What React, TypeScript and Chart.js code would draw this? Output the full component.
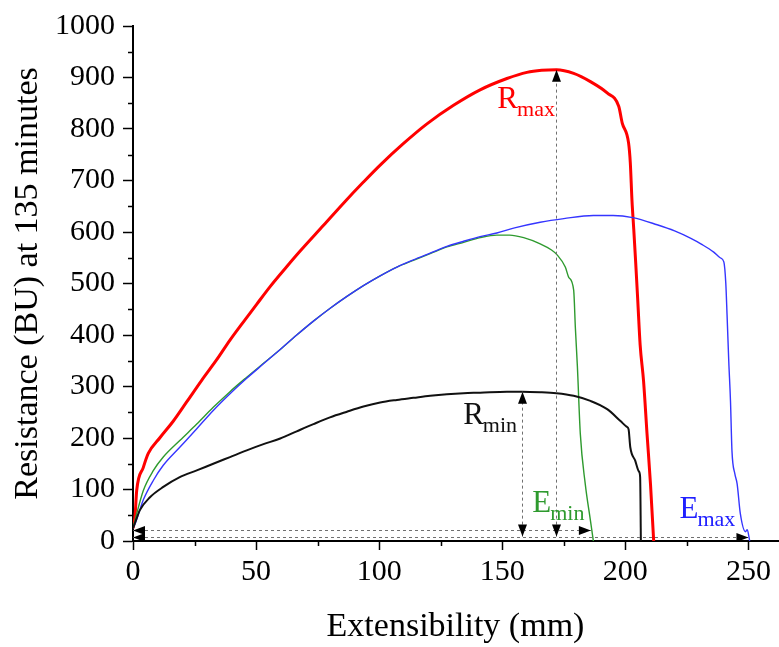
import React, { useEffect, useRef } from "react";
import { Chart, registerables } from "chart.js";

Chart.register(...registerables);

const FONT = "'Liberation Serif', 'Times New Roman', serif";

// Axis ticks
const xTickValues = [0, 50, 100, 150, 200, 250];
const xMinorTicks = [25, 75, 125, 175, 225];
const yTickValues = [0, 100, 200, 300, 400, 500, 600, 700, 800, 900, 1000];
const yMinorTicks = [50, 150, 250, 350, 450, 550, 650, 750, 850, 950];

// R_max curve (red)
const rMaxX = [0, 0.8, 1.5, 4.2, 6.2, 11, 16.4, 21.8, 27.9, 34, 39.4, 44.8, 50.3, 55.7, 62.5, 67.9, 77.4, 85.5, 93.6, 100.4, 109.9, 119.4, 130.2, 141, 151.9, 160, 166, 172, 179, 185.8, 192.6, 197.3, 198.7, 201.3, 202, 202.7, 203.4, 204.2, 205, 206, 207.4, 208.8, 210.2, 211.5];
const rMaxY = [25, 47, 98, 143, 170, 201, 233, 270, 312, 352, 390, 425, 460, 494, 533, 563, 613, 656, 697, 730, 772, 810, 846, 876, 898, 910, 914, 915, 908, 892, 870, 844, 812, 773, 735, 660, 606, 540, 470, 381, 310, 208, 111, 0];

// E_min curve (green)
const eMinX = [0, 0.8, 4.2, 8.3, 12.3, 19, 25.9, 32.5, 39.4, 46.2, 53, 59.8, 66.5, 73.3, 80.1, 86.9, 93.6, 100.4, 107.2, 113.9, 120.7, 127.5, 134.3, 141, 147.8, 153, 158.7, 165.4, 170, 172.2, 175.6, 177, 179, 179.7, 180.5, 181.7, 183.7, 185.8, 187];
const eMinY = [25, 40, 98, 137, 163, 195, 227, 259, 290, 318, 345, 372, 400, 427, 452, 475, 496, 515, 532, 545, 558, 571, 580, 589, 594, 594, 589, 577, 565, 556, 532, 512, 487, 413, 340, 208, 111, 40, 0];

// E_max curve (blue)
const eMaxX = [0, 1, 4.2, 8.3, 12.3, 19, 25.9, 32.5, 39.4, 46.2, 53, 59.8, 66.5, 73.3, 80.1, 86.9, 93.6, 100.4, 107.2, 113.9, 120.7, 127.5, 134.3, 141, 147.8, 155, 165.4, 175, 187, 195, 203, 212.9, 220, 226.4, 231, 235.9, 238.5, 240, 240.8, 241.3, 242, 242.7, 243.3, 244.5, 245.4, 246.7, 248.8, 249.5, 250.5];
const eMaxY = [25, 35, 80, 118, 147, 182, 218, 253, 286, 316, 344, 372, 400, 427, 452, 475, 496, 515, 532, 546, 559, 572, 582, 591, 598, 608, 619, 626, 632, 632, 628, 614, 602, 588, 576, 561, 550, 542, 500, 440, 349, 272, 175, 130, 111, 53, 18, 22, 0];

// R_min curve (black)
const rMinX = [0, 0.8, 2.8, 6.9, 12.3, 19, 25.9, 32.6, 39.4, 46.2, 53, 59.8, 66.5, 73.3, 80, 86.9, 93.6, 100.4, 107.2, 113.9, 120.7, 127.5, 134.3, 141, 151.9, 158, 165.4, 172, 179, 185.8, 192.6, 198, 200.5, 201.3, 202, 204, 205.5, 206, 206.3];
const rMinY = [25, 35, 60, 85, 105, 124, 137, 150, 163, 176, 188, 199, 213, 227, 240, 251, 261, 269, 274, 278, 282, 285, 287, 288, 290, 290, 289, 287, 282, 272, 256, 233, 222, 217, 182, 156, 135, 124, 0];

// Annotation arrows (data units)
const peakArrowX = [172, 158];
const peakArrowTop = [915, 290];
const peakArrowBottom = [8.5, 8.5];
const extArrowY = [21, 8.5];
const extArrowEnd = [186, 250];

// Annotation labels (data units: left edge x, baseline y)
const labelMain = ["R", "R", "E", "E"];
const labelSub = ["max", "min", "min", "max"];
const labelX = [148, 134.1, 162.2, 222];
const labelY = [841, 227.5, 56, 44];
const labelColor = ["#ff0000", "#111111", "#2e9a2e", "#2020ff"];

function pts(xs: number[], ys: number[]) {
  return xs.map((x, i) => ({ x, y: ys[i] }));
}

function arrowHead(ctx: CanvasRenderingContext2D, tx: number, ty: number, ang: number) {
  const len = 12;
  const hw = 4.5;
  ctx.save();
  ctx.translate(tx, ty);
  ctx.rotate(ang);
  ctx.beginPath();
  ctx.moveTo(0, 0);
  ctx.lineTo(-len, -hw);
  ctx.lineTo(-len, hw);
  ctx.closePath();
  ctx.fillStyle = "#000";
  ctx.fill();
  ctx.restore();
}

const overlayPlugin = {
  id: "overlay",
  afterDraw(chart: any) {
    const ctx: CanvasRenderingContext2D = chart.ctx;
    const xs = chart.scales.x;
    const ys = chart.scales.y;
    const { left, bottom } = chart.chartArea;
    ctx.save();
    // minor ticks
    ctx.strokeStyle = "#000";
    ctx.lineWidth = 1.5;
    ctx.beginPath();
    xMinorTicks.forEach((v) => {
      const px = Math.round(xs.getPixelForValue(v)) + 0.5;
      ctx.moveTo(px, bottom);
      ctx.lineTo(px, bottom + 5);
    });
    yMinorTicks.forEach((v) => {
      const py = Math.round(ys.getPixelForValue(v)) + 0.5;
      ctx.moveTo(left, py);
      ctx.lineTo(left - 5, py);
    });
    ctx.stroke();

    // dashed guide lines
    ctx.strokeStyle = "#707070";
    ctx.lineWidth = 1;
    ctx.setLineDash([3, 3]);
    ctx.beginPath();
    peakArrowX.forEach((v, i) => {
      const px = Math.round(xs.getPixelForValue(v)) + 0.5;
      ctx.moveTo(px, ys.getPixelForValue(peakArrowBottom[i]));
      ctx.lineTo(px, ys.getPixelForValue(peakArrowTop[i]));
    });
    extArrowY.forEach((v, i) => {
      const py = Math.round(ys.getPixelForValue(v)) + 0.5;
      ctx.moveTo(xs.getPixelForValue(0), py);
      ctx.lineTo(xs.getPixelForValue(extArrowEnd[i]), py);
    });
    ctx.stroke();
    ctx.setLineDash([]);

    // arrow heads
    peakArrowX.forEach((v, i) => {
      const px = Math.round(xs.getPixelForValue(v)) + 0.5;
      arrowHead(ctx, px, ys.getPixelForValue(peakArrowTop[i]), -Math.PI / 2);
      arrowHead(ctx, px, ys.getPixelForValue(peakArrowBottom[i]), Math.PI / 2);
    });
    extArrowY.forEach((v, i) => {
      const py = Math.round(ys.getPixelForValue(v)) + 0.5;
      arrowHead(ctx, xs.getPixelForValue(0), py, Math.PI);
      arrowHead(ctx, xs.getPixelForValue(extArrowEnd[i]), py, 0);
    });

    // labels with subscripts
    ctx.textBaseline = "alphabetic";
    ctx.textAlign = "left";
    labelMain.forEach((m, i) => {
      const px = xs.getPixelForValue(labelX[i]);
      const py = ys.getPixelForValue(labelY[i]);
      ctx.fillStyle = labelColor[i];
      ctx.font = `31px ${FONT}`;
      ctx.fillText(m, px, py);
      const w = ctx.measureText(m).width;
      ctx.font = `22px ${FONT}`;
      ctx.fillText(labelSub[i], px + w - 1, py + 8);
    });
    ctx.restore();
  },
};

export default function App() {
  const ref = useRef<HTMLCanvasElement | null>(null);
  useEffect(() => {
    if (!ref.current) return;
    const tickFont = { family: FONT, size: 30 };
    const titleFont = { family: FONT, size: 34 };
    const chart = new Chart(ref.current, {
      type: "scatter",
      data: {
        datasets: [
          { label: "Rmin", data: pts(rMinX, rMinY), borderColor: "#111111", borderWidth: 2 },
          { label: "Emax", data: pts(eMaxX, eMaxY), borderColor: "#3535ff", borderWidth: 1.4 },
          { label: "Emin", data: pts(eMinX, eMinY), borderColor: "#2e9a2e", borderWidth: 1.4 },
          { label: "Rmax", data: pts(rMaxX, rMaxY), borderColor: "#ff0000", borderWidth: 3 },
        ].map((d) => ({
          ...d,
          showLine: true,
          pointRadius: 0,
          pointHoverRadius: 0,
          fill: false,
          cubicInterpolationMode: "monotone" as const,
        })),
      },
      plugins: [overlayPlugin],
      options: {
        responsive: false,
        animation: false,
        devicePixelRatio: 1,
        layout: { padding: { top: 22, right: 1, left: 0, bottom: 0 } },
        plugins: { legend: { display: false }, tooltip: { enabled: false } },
        scales: {
          x: {
            type: "linear",
            min: 0,
            max: 262,
            afterBuildTicks: (s: any) => {
              s.ticks = xTickValues.map((v) => ({ value: v }));
            },
            afterFit: (s: any) => {
              s.height = 106;
            },
            border: { display: true, color: "#000", width: 2 },
            grid: { drawOnChartArea: false, drawTicks: true, tickLength: 9, tickColor: "#000", tickWidth: 1.5 },
            ticks: { font: tickFont, color: "#000", padding: 4, maxRotation: 0, callback: (v: any) => String(v) },
            title: { display: true, text: "Extensibility (mm)", font: titleFont, color: "#000", padding: { top: 0, bottom: 0 } },
          },
          y: {
            type: "linear",
            min: 0,
            max: 1000,
            afterBuildTicks: (s: any) => {
              s.ticks = yTickValues.map((v) => ({ value: v }));
            },
            afterFit: (s: any) => {
              s.width = 133;
            },
            border: { display: true, color: "#000", width: 2 },
            grid: { drawOnChartArea: false, drawTicks: true, tickLength: 10, tickColor: "#000", tickWidth: 1.5 },
            ticks: { font: tickFont, color: "#000", padding: 8, callback: (v: any) => String(v) },
            title: { display: true, text: "Resistance (BU) at 135 minutes", font: titleFont, color: "#000", padding: { top: 8, bottom: 0 } },
          },
        },
      },
    } as any);
    return () => chart.destroy();
  }, []);
  return (
    <div style={{ position: "fixed", left: 0, top: 0, width: 779, height: 647, background: "#fff" }}>
      <canvas ref={ref} width={779} height={647} style={{ display: "block" }} />
    </div>
  );
}
